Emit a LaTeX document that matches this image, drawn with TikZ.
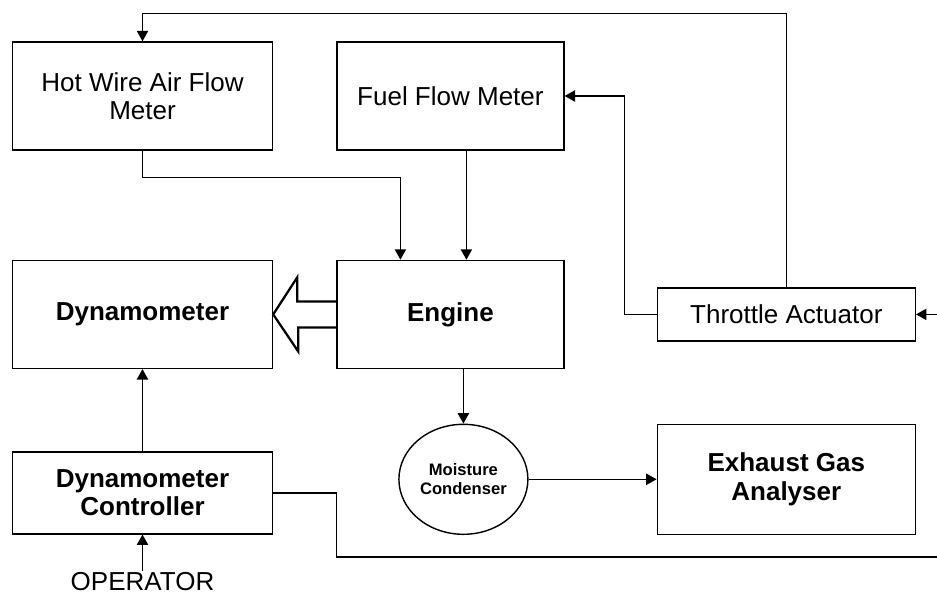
\documentclass[tikz,border=0pt]{standalone}
\usepackage{fontspec}
\setmainfont{Liberation Sans}
\usetikzlibrary{shapes.geometric, arrows.meta, positioning, calc}

\begin{document}
\begin{tikzpicture}[
    node distance=2.725cm and 1.575cm,
    box/.style={rectangle, draw, line width=1pt, minimum width=6.5cm, minimum height=2.7cm, align=center, inner sep=2pt, font=\fontsize{18.5}{20}\selectfont},
    boldbox/.style={box, font=\fontsize{18.5}{20}\selectfont\bfseries},
    arrow/.style={line width=1pt, -{Triangle[length=2.6mm,width=2.8mm]}},
    wire/.style={line width=1pt},
    hollow/.style={line width=1.6pt, line join=miter}
]
\useasboundingbox (0,0) rectangle (23.425,-14.9);

% Nodes
\node[box] (hotwire) at (3.5625,-2.4) {Hot Wire Air Flow\\Meter};
\node[box, right=of hotwire, minimum width=5.675cm] (fuel) {Fuel Flow Meter};
\node[boldbox, below=of hotwire] (dyno) {Dynamometer};
\node[boldbox, below=of fuel, minimum width=5.675cm] (engine) {Engine};
\node[box, right=2.3cm of engine, minimum width=6.45cm, minimum height=1.325cm] (throttle) {Throttle Actuator};
\node[boldbox, below=2.05cm of throttle, minimum width=6.45cm, minimum height=2.75cm] (exhaust) {Exhaust Gas\\Analyser};
\node[ellipse, draw, line width=1pt, left=3.2cm of exhaust, minimum width=3.225cm, minimum height=2.75cm, inner sep=0pt, align=center, font=\fontsize{11.8}{13.5}\selectfont\bfseries] (condenser) {Moisture\\Condenser};
\node[boldbox, below=2.05cm of dyno, minimum height=2.05cm] (controller) {Dynamometer\\Controller};
\node[below=0.9cm of controller, inner sep=1pt, font=\fontsize{18.5}{20}\selectfont] (operator) {OPERATOR};

\coordinate[right=0.6cm of throttle.east] (demand);
\coordinate (sink) at (23.425,-13.925);

% Arrows
\draw[arrow] (throttle.north) |- ($(hotwire.north)+(0,0.7)$) -- (hotwire.north);
\draw[arrow] (throttle.west) -- ++(-0.8,0) |- (fuel.east);
\draw[arrow] (demand) -- (throttle.east);
\draw[arrow] (hotwire.south) -- ++(0,-0.675) -| ([xshift=-1.25cm]engine.north);
\draw[arrow] ([xshift=0.4cm]fuel.south) -- ([xshift=0.4cm]engine.north);
\draw[arrow] (condenser.north |- engine.south) -- (condenser.north);
\draw[arrow] (condenser.east) -- (exhaust.west);
\draw[arrow] (controller.north) -- (dyno.south);
\draw[arrow] (operator.north) -- (controller.south);
\draw[wire] (controller.east) -- ++(1.575,0) |- (sink);

% Power from engine to dynamometer
\draw[hollow] ([yshift=0.325cm]engine.west) -- ++(-0.975,0) -- ++(0,0.6) -- (dyno.east)
    -- ++(0.625,-0.925) -- ++(0,0.6) -- ([yshift=-0.325cm]engine.west);

\end{tikzpicture}
\end{document}
